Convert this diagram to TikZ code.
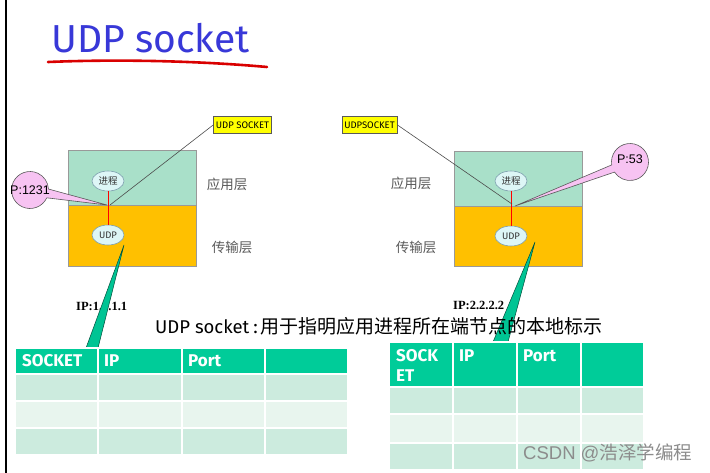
\documentclass[tikz,border=0pt]{standalone}
\usepackage{fontspec}
\setmainfont{Liberation Serif}
\newfontfamily\comic{Fira Sans}
\newfontfamily\arial{Liberation Sans}
\newfontfamily\cjk{Noto Sans CJK SC}
\usetikzlibrary{shapes.geometric,calc}
\definecolor{titleblue}{HTML}{3838D8}
\definecolor{appgreen}{HTML}{A9E0C9}
\definecolor{transorange}{HTML}{FFC000}
\definecolor{ellfill}{HTML}{DDF6F6}
\definecolor{pinkfill}{HTML}{F7C3F2}
\definecolor{tealhead}{HTML}{00CC99}
\definecolor{rowA}{HTML}{CCEBDE}
\definecolor{rowB}{HTML}{E8F5EE}
\definecolor{wedge}{HTML}{00C494}
\definecolor{sockyellow}{HTML}{FFFF00}
\tikzset{
  layerbox/.style={draw=gray!80, line width=0.6pt, minimum width=128pt, inner sep=0},
  ell/.style={ellipse, draw=gray!70!cyan, fill=ellfill, line width=0.6pt, minimum width=32pt, minimum height=20pt, inner sep=0, font=\comic\fontsize{9.5}{10}\selectfont, text=black!80},
  sockbox/.style={draw=gray!70!black, fill=sockyellow, line width=0.6pt, inner xsep=2.5pt, inner ysep=1pt, minimum height=17pt, font=\comic\fontsize{9.5}{10}\selectfont},
  layerlabel/.style={font=\cjk\fontsize{13.5}{14}\selectfont, text=black!65},
  pinkcall/.style={fill=pinkfill, draw=gray!70!black, line width=0.6pt},
  greenwedge/.style={fill=wedge, draw=black!60!wedge, line width=0.5pt},
  iplabel/.style={font=\bfseries\fontsize{12.5}{12.5}\selectfont, anchor=base west, inner sep=0},
  hdr/.style={font=\comic\bfseries\fontsize{17}{18}\selectfont, text=white, anchor=west, inner sep=0},
  cellline/.style={draw=white, line width=1.5pt}
}
\begin{document}
\begin{tikzpicture}[x=1pt,y=-1pt]
\useasboundingbox (0,0) rectangle (710,472);
\fill[white] (0,0) rectangle (710,472);
\draw[black, line width=1.3pt] (6,-2) -- (6,474);

% title
\node[font=\comic\fontsize{39}{39}\selectfont, text=titleblue, anchor=base west, inner sep=0] (title) at (51,52) {UDP socket};
\draw[red!85!black, line width=2.6pt, line cap=round] (48,62) .. controls (120,59) and (200,61) .. (267,67);

% ---------- left host ----------
\node[layerbox, fill=appgreen, minimum height=55pt] (app1) at (132,177.5) {};
\node[layerbox, fill=transorange, minimum height=61pt] (tr1) at (132,235.5) {};
\node[ell] (p1) at (108,181) {\cjk 进程};
\node[ell] (u1) at (108,235) {UDP};
\draw[red, line width=0.9pt] (p1.south) -- (u1.north);
\node[layerlabel] (al1) at (227,184) {应用层};
\node[layerlabel] (tl1) at (232,247) {传输层};
\node[sockbox] (s1) at (242.5,125) {UDP SOCKET};
\coordinate (j1) at (110,205);
\draw[black!70, line width=0.6pt] (j1) -- (s1.west);
% pink callout P:1231
\coordinate (c1) at (30,190);
\coordinate (t1) at (107,205);
\draw[pinkcall] (t1) -- ($(c1)+(25:18.5)$) arc[start angle=25, end angle=357, radius=18.5] -- cycle;
\node[font=\arial\fontsize{12.5}{12.5}\selectfont, inner sep=0] (pl1) at (30,190) {P:1231};

\node[iplabel] (ip1) at (76,310) {IP:1.1.1.1};

% ---------- right host ----------
\node[layerbox, fill=appgreen, minimum height=55pt] (app2) at (518,178.5) {};
\node[layerbox, fill=transorange, minimum height=60pt] (tr2) at (518,236) {};
\node[ell] (p2) at (511,181) {\cjk 进程};
\node[ell] (u2) at (511,236) {UDP};
\draw[red, line width=0.9pt] (p2.south) -- (u2.north);
\node[layerlabel] (al2) at (411,183) {应用层};
\node[layerlabel] (tl2) at (416,247) {传输层};
\node[sockbox] (s2) at (369.5,125) {UDPSOCKET};
\coordinate (j2) at (512,204);
\draw[black!70, line width=0.6pt] (s2.east) -- (j2);
% pink callout P:53
\coordinate (c2) at (630,162);
\coordinate (t2) at (515,206);
\draw[pinkcall] (t2) -- ($(c2)+(171:18.5)$) arc[start angle=171, end angle=507, radius=18.5] -- cycle;
\node[font=\arial\fontsize{12.5}{12.5}\selectfont, inner sep=0] (pl2) at (630,159) {P:53};

\node[iplabel] (ip2) at (453,309) {IP:2.2.2.2};

% green wedges
\coordinate (w1) at (124,245);
\coordinate (w1a) at (86,348);
\coordinate (w1b) at (98,348);
\draw[greenwedge] (w1) -- (w1a) -- (w1b) -- cycle;
\coordinate (w2) at (535,242);
\coordinate (w2a) at (493,342);
\coordinate (w2b) at (508,342);
\draw[greenwedge] (w2) -- (w2a) -- (w2b) -- cycle;

% subtitle
\node[anchor=base west, inner sep=0] (sub) at (155,333) {{\comic\fontsize{18.5}{19}\selectfont UDP socket\hspace{4pt}:\hspace{3pt}}{\cjk\fontsize{19}{20}\selectfont 用于指明应用进程所在端节点的本地标示}};

% ---------- left table ----------
\fill[tealhead] (15,348) rectangle (348,374);
\fill[rowA] (15,374) rectangle (348,401);
\fill[rowB] (15,401) rectangle (348,428);
\fill[rowA] (15,428) rectangle (348,455);
\foreach \yy in {374,401,428} \draw[cellline] (15,\yy) -- (348,\yy);
\foreach \xx in {98,182,265} \draw[cellline] (\xx,348) -- (\xx,455);
\draw[cellline] (15,348) rectangle (348,455);
\node[hdr] (h1a) at (22,361) {SOCKET};
\node[hdr] (h1b) at (104,361) {IP};
\node[hdr] (h1c) at (188,361) {Port};

% ---------- right table ----------
\fill[tealhead] (389,342) rectangle (644,387);
\fill[rowA] (389,387) rectangle (644,414);
\fill[rowB] (389,414) rectangle (644,443);
\fill[rowA] (389,443) rectangle (644,470);
\foreach \yy in {387,414,443} \draw[cellline] (389,\yy) -- (644,\yy);
\foreach \xx in {453,517,581} \draw[cellline] (\xx,342) -- (\xx,470);
\draw[cellline] (389,342) rectangle (644,470);
\node[hdr] (h2a) at (396,356) {SOCK};
\node[hdr] (h2a2) at (396,376) {ET};
\node[hdr] (h2b) at (459,356) {IP};
\node[hdr] (h2c) at (523,356) {Port};

% watermark
\node[anchor=west, inner sep=0, text=black!45, font=\arial\fontsize{18.5}{18.5}\selectfont] (wm) at (523,453) {CSDN @{\cjk 浩泽学编程}};
\end{tikzpicture}
\end{document}
